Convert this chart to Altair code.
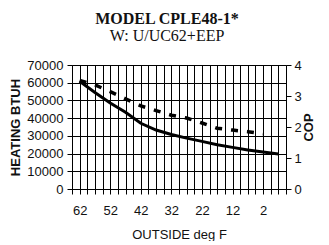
import altair as alt
import pandas as pd

# Heating capacity (BTUH) vs outside temperature
TEMPS_BTUH = [62, 57, 52, 47, 42, 37, 32, 27, 22, 17, 12, 7, 2, -3]
BTUH = [60800, 54500, 48600, 43300, 37100, 33300, 30800, 28700, 26900, 25000, 23500, 22000, 20900, 19800]

# Coefficient of performance vs outside temperature
TEMPS_COP = [62, 57, 52, 47, 42, 37, 32, 27, 22, 17, 12, 7, 2]
COP = [3.50, 3.36, 3.14, 2.91, 2.68, 2.53, 2.38, 2.29, 2.13, 1.96, 1.90, 1.85, 1.78]

X_TICK_LABELS = [62, 52, 42, 32, 22, 12, 2]
Y_LEFT_TICKS = [0, 10000, 20000, 30000, 40000, 50000, 60000, 70000]
Y_RIGHT_TICKS = [0, 1, 2, 3, 4]

X_MIN, X_MAX, X_STEP = -5.5, 64.5, 2.5
x_grid = [X_MAX - X_STEP * k for k in range(int(round((X_MAX - X_MIN) / X_STEP)) + 1)]

df_btuh = pd.DataFrame({"temp": TEMPS_BTUH, "btuh": BTUH})
df_cop = pd.DataFrame({"temp": TEMPS_COP, "cop": COP})

LABEL_FONT = "Liberation Sans"
x_scale = alt.Scale(domain=[X_MIN, X_MAX], reverse=True, nice=False, zero=False)

solid = alt.Chart(df_btuh).mark_line(color="black", strokeWidth=3).encode(
    x=alt.X(
        "temp:Q", scale=x_scale,
        axis=alt.Axis(
            orient="bottom", values=x_grid, labels=False, title=None,
            grid=True, gridColor="black", gridOpacity=1, gridWidth=1,
            domainColor="black", tickColor="black", tickSize=5,
        ),
    ),
    y=alt.Y(
        "btuh:Q",
        scale=alt.Scale(domain=[0, 70000], nice=False),
        axis=alt.Axis(
            values=Y_LEFT_TICKS, format="d",
            title="HEATING BTUH",
            titleFont=LABEL_FONT, titleFontSize=13, titleFontWeight="bold", titleColor="#111",
            titleX=-57, titleY=62, titleAngle=270, titleBaseline="middle", titleAlign="center",
            labelFont=LABEL_FONT, labelFontSize=13, labelColor="#111", labelPadding=4,
            grid=True, gridColor="black", gridOpacity=1, gridWidth=1,
            domainColor="black", tickColor="black", tickSize=5,
        ),
    ),
)

dashed = alt.Chart(df_cop).mark_line(color="black", strokeWidth=3.5, strokeDash=[7, 9]).encode(
    x=alt.X(
        "temp:Q", scale=x_scale,
        axis=alt.Axis(
            orient="bottom", values=X_TICK_LABELS, format="d",
            title="OUTSIDE deg F",
            titleFont=LABEL_FONT, titleFontSize=13, titleFontWeight="normal", titleColor="#111",
            titleY=45, titleBaseline="middle",
            labelFont=LABEL_FONT, labelFontSize=13, labelColor="#111", labelPadding=15,
            labelOverlap=False, labelFlush=False,
            grid=False, domain=False, ticks=False,
        ),
    ),
    y=alt.Y(
        "cop:Q",
        scale=alt.Scale(domain=[0, 4], nice=False),
        axis=alt.Axis(
            orient="right", values=Y_RIGHT_TICKS,
            title="COP",
            titleFont=LABEL_FONT, titleFontSize=13, titleFontWeight="bold", titleColor="#111",
            titleX=22, titleY=62, titleAngle=270, titleBaseline="middle", titleAlign="center",
            labelFont=LABEL_FONT, labelFontSize=13, labelColor="#111", labelPadding=3,
            grid=False, domainColor="black", tickColor="black", tickSize=5,
        ),
    ),
)

chart = alt.layer(solid, dashed).resolve_scale(y="independent").resolve_axis(x="independent").properties(
    width=214,
    height=124,
    autosize=alt.AutoSizeParams(type="none"),
    padding={"left": 64, "top": 57, "right": 35, "bottom": 52},
    title=alt.TitleParams(
        text="MODEL CPLE48-1*",
        subtitle="W: U/UC62+EEP",
        font="Liberation Serif", fontSize=16, fontWeight="bold", color="#111",
        subtitleFont="Liberation Serif", subtitleFontSize=16, subtitleColor="#111",
        subtitlePadding=1,
        anchor="middle", dx=-12, offset=15,
    ),
).configure_view(stroke=None)

chart.save("out.html", embed_options={"renderer": "svg", "actions": False})
